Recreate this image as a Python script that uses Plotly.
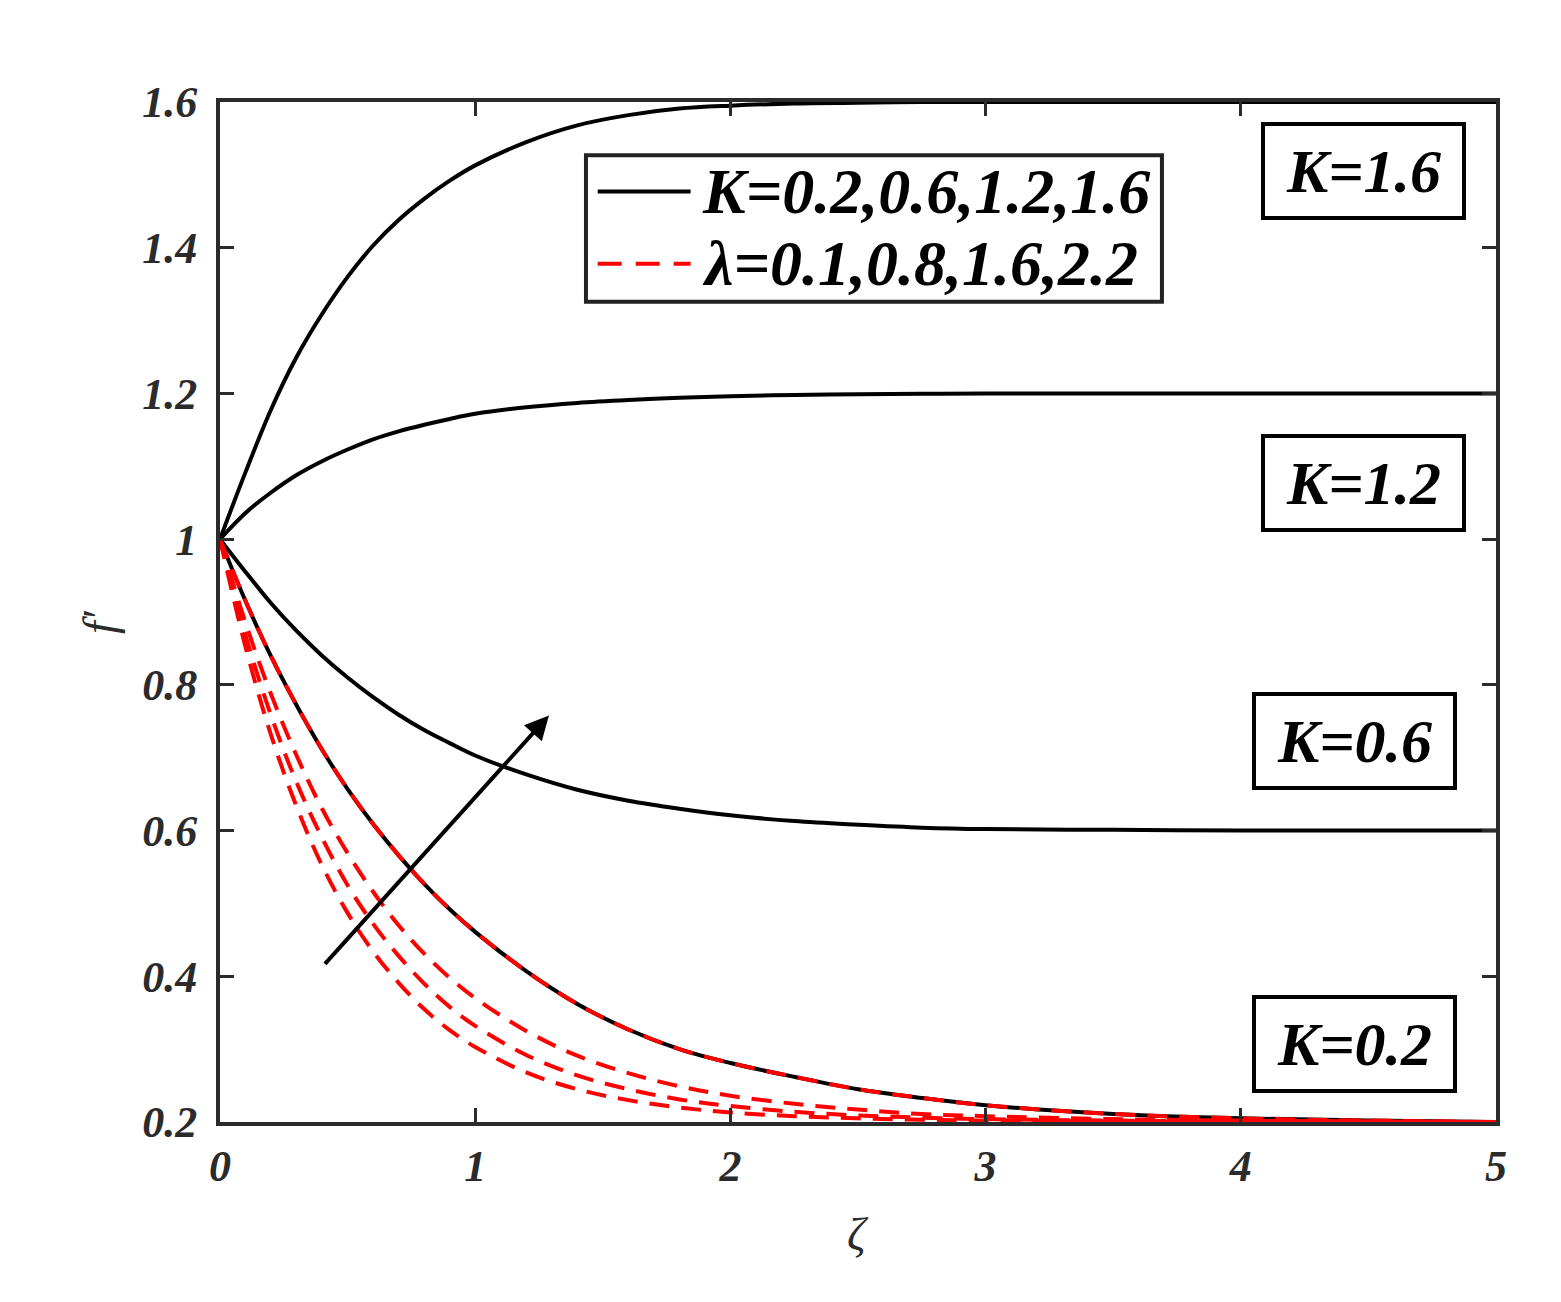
import plotly.graph_objects as go

# ---------------- data ----------------
zeta = [0, 0.1, 0.2, 0.3, 0.4, 0.5, 0.6, 0.7, 0.8, 0.9, 1.0, 1.2, 1.4, 1.6, 1.8, 2.0,
        2.25, 2.5, 2.75, 3.0, 3.5, 4.0, 4.5, 5.0]

K_02 = [1.0, 0.915, 0.839, 0.772, 0.711, 0.657, 0.609, 0.566, 0.527, 0.492, 0.461, 0.407,
        0.362, 0.327, 0.300, 0.281, 0.262, 0.245, 0.233, 0.223, 0.211, 0.205, 0.202, 0.200]
K_06 = [1.0, 0.955, 0.912, 0.874, 0.840, 0.810, 0.783, 0.759, 0.738, 0.720, 0.703, 0.677,
        0.656, 0.641, 0.630, 0.621, 0.613, 0.608, 0.604, 0.602, 0.601, 0.600, 0.600, 0.600]
K_12 = [1.0, 1.036, 1.064, 1.088, 1.107, 1.123, 1.137, 1.148, 1.157, 1.165, 1.172, 1.181,
        1.187, 1.191, 1.194, 1.196, 1.198, 1.199, 1.1995, 1.2, 1.2, 1.2, 1.2, 1.2]
K_16 = [1.0, 1.092, 1.178, 1.250, 1.309, 1.360, 1.403, 1.438, 1.467, 1.492, 1.513, 1.545,
        1.568, 1.582, 1.591, 1.595, 1.598, 1.599, 1.600, 1.600, 1.600, 1.600, 1.600, 1.600]

lam_01 = K_02[:]  # coincides with the K=0.2 curve
lam_08 = [1.0, 0.885, 0.787, 0.703, 0.630, 0.569, 0.516, 0.470, 0.431, 0.398, 0.370, 0.325,
          0.291, 0.267, 0.249, 0.236, 0.225, 0.217, 0.211, 0.208, 0.204, 0.202, 0.201, 0.200]
lam_16 = [1.0, 0.868, 0.758, 0.666, 0.590, 0.525, 0.472, 0.428, 0.390, 0.358, 0.332, 0.292,
          0.264, 0.245, 0.231, 0.222, 0.214, 0.209, 0.206, 0.204, 0.202, 0.201, 0.200, 0.200]
lam_22 = [1.0, 0.852, 0.731, 0.633, 0.552, 0.487, 0.434, 0.391, 0.355, 0.326, 0.303, 0.268,
          0.245, 0.230, 0.220, 0.213, 0.208, 0.205, 0.203, 0.202, 0.201, 0.200, 0.200, 0.200]

x_ticks = [0, 1, 2, 3, 4, 5]
x_ticktext = ["0", "1", "2", "3", "4", "5"]
y_ticks = [0.2, 0.4, 0.6, 0.8, 1.0, 1.2, 1.4, 1.6]
y_ticktext = ["0.2", "0.4", "0.6", "0.8", "1", "1.2", "1.4", "1.6"]

box_labels = ["K=1.6", "K=1.2", "K=0.6", "K=0.2"]
box_x = [4.48, 4.48, 4.445, 4.445]
box_y = [1.505, 1.077, 0.723, 0.307]

legend_text = ["K=0.2,0.6,1.2,1.6", "λ=0.1,0.8,1.6,2.2"]

arrow_start = (0.406, 0.415)
arrow_end = (1.289, 0.758)

# ---------------- figure ----------------
FONT = "Liberation Serif, Times New Roman, serif"
AXCOL = "#2b2b2b"
fig = go.Figure()

for ys in [K_02, K_06, K_12, K_16]:
    fig.add_trace(go.Scatter(x=zeta, y=ys, mode="lines", line_shape="spline",
                             line=dict(color="black", width=4), showlegend=False))
for ys in [lam_08, lam_16, lam_22, lam_01]:
    fig.add_trace(go.Scatter(x=zeta, y=ys, mode="lines", line_shape="spline",
                             line=dict(color="red", width=4, dash="20px,12px"),
                             showlegend=False))

tickfont = dict(family=FONT, size=44, color=AXCOL, weight="bold", style="italic")
fig.update_xaxes(range=[0, 5], tickvals=x_ticks, ticktext=x_ticktext,
                 ticks="inside", ticklen=14, tickwidth=3, tickcolor=AXCOL,
                 showline=True, linewidth=4, linecolor=AXCOL, mirror="ticks",
                 showgrid=False, zeroline=False, tickfont=tickfont,
                 ticklabelstandoff=2)
fig.update_yaxes(range=[0.2, 1.6], tickvals=y_ticks, ticktext=y_ticktext,
                 ticks="inside", ticklen=14, tickwidth=3, tickcolor=AXCOL,
                 showline=True, linewidth=4, linecolor=AXCOL, mirror="ticks",
                 showgrid=False, zeroline=False, tickfont=tickfont,
                 ticklabelstandoff=10)

annotations = []
for t, bx, by in zip(box_labels, box_x, box_y):
    annotations.append(dict(x=bx, y=by, xref="x", yref="y", showarrow=False,
                            text=t,
                            font=dict(family=FONT, size=62, color="black",
                                      weight="bold", style="italic"),
                            width=197, height=90, bordercolor="black",
                            borderwidth=4, borderpad=0, bgcolor="white"))

# legend (manual)
leg_x0, leg_x1, leg_y0, leg_y1 = 1.434, 3.691, 1.326, 1.527
shapes = [
    dict(type="rect", xref="x", yref="y", x0=leg_x0, x1=leg_x1, y0=leg_y0, y1=leg_y1,
         line=dict(color="#222222", width=4), fillcolor="white", layer="above"),
    dict(type="line", xref="x", yref="y", x0=1.48, x1=1.844, y0=1.477, y1=1.477,
         line=dict(color="black", width=4), layer="above"),
    dict(type="line", xref="x", yref="y", x0=1.48, x1=1.844, y0=1.378, y1=1.378,
         line=dict(color="red", width=4, dash="24px,14px"), layer="above"),
]
for t, ly in zip(legend_text, [1.477, 1.378]):
    annotations.append(dict(x=1.88, y=ly, xref="x", yref="y", xanchor="left",
                            showarrow=False, text=t,
                            font=dict(family=FONT, size=64, color="black",
                                      weight="bold", style="italic")))

annotations.append(dict(x=arrow_end[0], y=arrow_end[1], ax=arrow_start[0], ay=arrow_start[1],
                        xref="x", yref="y", axref="x", ayref="y", text="",
                        showarrow=True, arrowhead=2, arrowsize=1.2, arrowwidth=4,
                        arrowcolor="black"))

annotations.append(dict(x=0.5, y=-0.11, xref="paper", yref="paper", showarrow=False,
                        xanchor="center", yanchor="middle",
                        text="ζ", font=dict(family=FONT, size=46, color=AXCOL, style="italic")))
annotations.append(dict(x=-0.095, y=0.49, xref="paper", yref="paper", showarrow=False,
                        xanchor="center", yanchor="middle",
                        text="f′", textangle=-90,
                        font=dict(family=FONT, size=46, color=AXCOL, style="italic")))

fig.update_layout(width=1561, height=1302,
                  margin=dict(l=212, r=73, t=94, b=188),
                  paper_bgcolor="white", plot_bgcolor="white",
                  annotations=annotations, shapes=shapes, showlegend=False)

fig.write_html("out.html")
